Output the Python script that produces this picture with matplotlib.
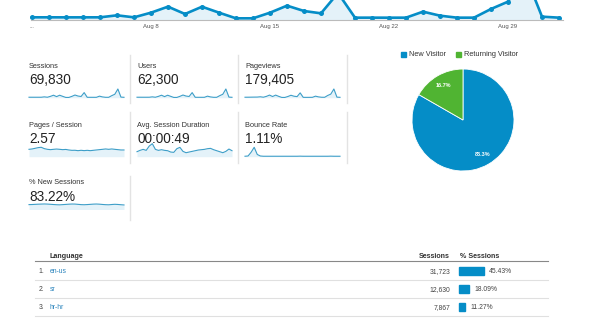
import matplotlib
matplotlib.use('Agg')
import matplotlib.pyplot as plt
import numpy as np
from matplotlib.patches import Rectangle
from matplotlib.lines import Line2D

plt.rcParams['font.family'] = ['Liberation Sans', 'DejaVu Sans']

# ---------------- data ----------------
tick_labels = ['...', 'Aug 8', 'Aug 15', 'Aug 22', 'Aug 29']
tick_index = [0, 7, 14, 21, 28]

sessions_daily = [766, 770, 758, 762, 768, 1340, 765, 2104, 3826, 1722, 3810, 2110,
                  479, 485, 2098, 4113, 2583, 1914, 7749, 669, 672, 665, 670, 2391,
                  1243, 669, 671, 3157, 5261, 13202, 956, 669]
users_daily = [690, 688, 676, 680, 690, 1195, 684, 1875, 3400, 1530, 3390, 1880,
               428, 432, 1870, 3660, 2300, 1700, 6900, 597, 600, 592, 598, 2130,
               1108, 597, 598, 2810, 4680, 11750, 851, 596]
pageviews_daily = [1980, 2090, 2280, 2510, 2610, 3770, 2060, 5430, 10330, 4820, 10280, 5440,
                   1280, 1190, 4890, 9660, 5950, 4480, 19000, 1560, 1490, 1560, 1650, 6170,
                   3360, 1890, 1810, 8930, 14200, 34060, 2350, 1650]
pages_per_session = [2.70, 2.83, 3.07, 3.32, 3.44, 2.95, 2.70, 2.58, 2.70, 2.80, 2.70, 2.58,
                     2.66, 2.46, 2.33, 2.35, 2.21, 2.34, 2.22, 2.33, 2.21, 2.34, 2.46, 2.58,
                     2.70, 2.83, 2.70, 2.83, 2.70, 2.58, 2.46, 2.46]
avg_duration = [36.8, 46.6, 53.9, 46.6, 78.4, 95.6, 53.9, 46.6, 51.5, 46.6, 44.1, 34.3,
                31.9, 58.8, 68.6, 39.2, 29.4, 34.3, 39.2, 44.1, 49.0, 51.5, 53.9, 58.8,
                61.3, 51.5, 44.1, 36.8, 29.4, 39.2, 56.4, 44.1]
bounce_rate = [0.5, 0.8, 5.0, 10.5, 2.5, 0.8, 0.5, 0.5, 0.5, 0.5, 0.5, 0.5,
               0.5, 0.5, 0.5, 0.5, 0.5, 0.5, 0.6, 0.5, 0.5, 0.5, 0.5, 0.5,
               0.5, 0.5, 0.5, 0.5, 0.6, 0.5, 0.5, 0.5]
new_sessions_pct = [83.0, 83.2, 83.5, 83.8, 84.0, 84.2, 84.0, 83.6, 83.2, 82.8, 82.6, 83.0,
                    83.4, 83.8, 84.1, 84.0, 83.5, 83.0, 82.8, 83.1, 83.5, 83.9, 84.1, 83.8,
                    83.3, 82.9, 82.7, 83.2, 83.6, 83.3, 82.8, 82.4]

metric_names = ['Sessions', 'Users', 'Pageviews', 'Pages / Session',
                'Avg. Session Duration', 'Bounce Rate', '% New Sessions']
metric_values = ['69,830', '62,300', '179,405', '2.57', '00:00:49', '1.11%', '83.22%']

visitor_types = ['New Visitor', 'Returning Visitor']
visitor_share = [83.3, 16.7]

languages = ['en-us', 'sr', 'hr-hr']
lang_sessions = ['31,723', '12,630', '7,867']
lang_pct = [45.43, 18.09, 11.27]

# ---------------- helpers ----------------
W, H = 600, 321
fig = plt.figure(figsize=(6, 3.21), dpi=100)
fig.patch.set_facecolor('white')

def fx(x):
    return x / W

def fy(y):
    return 1 - y / H

def box(x0, y0, x1, y1):
    return [fx(x0), fy(y1), (x1 - x0) / W, (y1 - y0) / H]

BLUE = '#058DC7'
GREEN = '#50B432'
FILL = '#e4f2f9'
SPARK = '#3d9ec8'

# ---------------- main line chart (top, cropped) ----------------
ax = fig.add_axes(box(31, 20 - 55.75, 563, 20))
xs = np.arange(len(sessions_daily))
ax.fill_between(xs, sessions_daily, 0, color=FILL, lw=0)
ax.plot(xs, sessions_daily, color=BLUE, lw=1.9, marker='o', ms=3.6,
        markeredgewidth=0, clip_on=False, solid_joinstyle='round')
ax.set_xlim(-1 / 17, 31 + 4 / 17)
ax.set_ylim(0, 16000)
for s in ['top', 'left', 'right']:
    ax.spines[s].set_visible(False)
ax.spines['bottom'].set_color('#bbbbbb')
ax.spines['bottom'].set_linewidth(0.8)
ax.set_yticks([])
ax.set_xticks(tick_index)
ax.set_xticklabels(tick_labels)
ax.tick_params(axis='x', length=0, labelsize=4.3, colors='#555555', pad=3)
ax.patch.set_alpha(0)

# ---------------- metric panels ----------------
cols_x = [29, 137, 245]
rows = [  # label baseline, value baseline
    (68.3, 84.0),
    (127.3, 143.3),
    (184.0, 200.7),
]
positions = [(0, 0), (0, 1), (0, 2), (1, 0), (1, 1), (1, 2), (2, 0)]
for name, val, (r, c) in zip(metric_names, metric_values, positions):
    lb, vb = rows[r]
    fig.text(fx(cols_x[c]), fy(lb), name, fontsize=5.3, color='#333333', va='baseline')
    fig.text(fx(cols_x[c]), fy(vb), val, fontsize=9.8, color='#222222', va='baseline')


def spark(x0, x1, ytop, ybot, vals, ylo, yhi):
    a = fig.add_axes(box(x0, ytop, x1, ybot))
    t = np.arange(len(vals))
    a.fill_between(t, vals, ylo, color=FILL, lw=0)
    a.plot(t, vals, color=SPARK, lw=0.8, clip_on=False)
    a.set_xlim(0, len(vals) - 1)
    a.set_ylim(ylo, yhi)
    a.axis('off')

spark(29, 124, 89, 97.75, sessions_daily, 0, max(sessions_daily))
spark(137, 232, 89, 97.75, users_daily, 0, max(users_daily))
spark(245, 340, 89, 97.75, pageviews_daily, 0, max(pageviews_daily))
spark(29, 124, 147.3, 156.7, pages_per_session, 0, max(pages_per_session))
spark(137, 232, 143.7, 156.7, avg_duration, 0, max(avg_duration))
spark(245, 340, 147.3, 156.7, bounce_rate, 0, max(bounce_rate))
spark(29, 124, 203, 209.5, new_sessions_pct, 74, 86)

# panel separators
sep_color = '#e3e3e3'
for x in [130, 238, 347]:
    fig.add_artist(Line2D([fx(x), fx(x)], [fy(55), fy(103.3)], color=sep_color, lw=1))
    fig.add_artist(Line2D([fx(x), fx(x)], [fy(111.7), fy(163.3)], color=sep_color, lw=1))
fig.add_artist(Line2D([fx(130), fx(130)], [fy(176), fy(220)], color=sep_color, lw=1))

# ---------------- pie ----------------
pax = fig.add_axes(box(411, 68, 515, 172))
wedges, texts, autotexts = pax.pie(
    visitor_share, colors=[BLUE, GREEN], startangle=90, counterclock=False,
    autopct='%.1f%%', pctdistance=0.78,
    wedgeprops=dict(edgecolor='white', linewidth=0.6),
    textprops=dict(color='white', fontsize=4.0, fontweight='bold'))
pax.set_xlim(-1.02, 1.02)
pax.set_ylim(-1.02, 1.02)

# legend
leg = [(400.7, 409, visitor_types[0], BLUE), (455.7, 463.7, visitor_types[1], GREEN)]
for sx, tx, lab, col in leg:
    fig.add_artist(Rectangle((fx(sx), fy(56.7)), 5 / W, 5 / H, color=col,
                             transform=fig.transFigure))
    fig.text(fx(tx), fy(56.4), lab, fontsize=5.3, color='#333333', va='baseline')

# ---------------- table ----------------
fig.text(fx(50), fy(258.3), 'Language', fontsize=5.1, fontweight='bold',
         color='#333333', va='baseline')
fig.text(fx(450), fy(258.3), 'Sessions', fontsize=5.1, fontweight='bold',
         color='#333333', va='baseline', ha='right')
fig.text(fx(459.5), fy(258.3), '% Sessions', fontsize=5.1, fontweight='bold',
         color='#333333', va='baseline')
fig.add_artist(Line2D([fx(34.6), fx(548)], [fy(261), fy(261)], color='#888888', lw=0.8))

row_centers = [270.7, 288.7, 306.7]
px_per_pct = 24.7 / 45.43
for i, (lang, ses, pct, yc) in enumerate(zip(languages, lang_sessions, lang_pct, row_centers)):
    base = yc + 2.3
    fig.text(fx(38.5), fy(base), f'{i + 1}.', fontsize=4.9, color='#444444', va='baseline')
    fig.text(fx(50), fy(base), lang, fontsize=4.9, color='#2b84bd', va='baseline')
    fig.text(fx(450), fy(base), ses, fontsize=4.9, color='#444444', va='baseline', ha='right')
    bw = pct * px_per_pct
    fig.add_artist(Rectangle((fx(459.3), fy(yc + 3.85)), bw / W, 7.7 / H, color=BLUE,
                             transform=fig.transFigure))
    fig.text(fx(459.3 + bw + 5), fy(base), f'{pct:.2f}%', fontsize=4.9,
             color='#444444', va='baseline')
    fig.add_artist(Line2D([fx(34.6), fx(548)], [fy(yc + 9), fy(yc + 9)],
                          color='#e0e0e0', lw=0.8))

fig.savefig('out.png', dpi=100, facecolor='white')
